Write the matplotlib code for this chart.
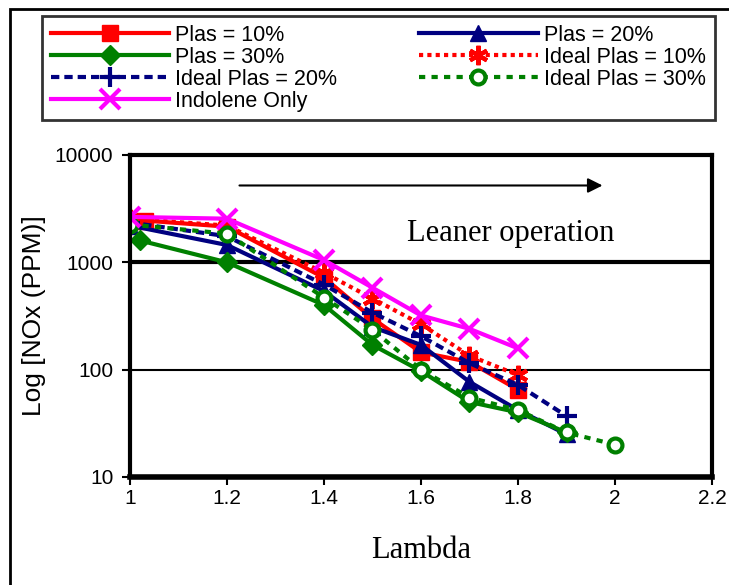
import matplotlib.pyplot as plt
from matplotlib.patches import Rectangle

# datos
lam_p10 = [1.03, 1.2, 1.4, 1.5, 1.6, 1.7, 1.8]
nox_p10 = [2450, 2150, 720, 300, 145, 118, 65]

lam_p20 = [1.0, 1.2, 1.4, 1.5, 1.6, 1.7, 1.8, 1.9]
nox_p20 = [2200, 1450, 540, 250, 170, 77, 42, 25]

lam_p30 = [1.02, 1.2, 1.4, 1.5, 1.6, 1.7, 1.8, 1.9]
nox_p30 = [1600, 1000, 400, 170, 97, 50, 40, 26]

lam_i10 = [1.0, 1.2, 1.4, 1.5, 1.6, 1.7, 1.8]
nox_i10 = [2550, 2200, 800, 460, 265, 135, 89]

lam_i20 = [1.0, 1.2, 1.4, 1.5, 1.6, 1.7, 1.8, 1.9]
nox_i20 = [2350, 1750, 620, 340, 205, 115, 72, 37]

lam_i30 = [1.0, 1.2, 1.4, 1.5, 1.6, 1.7, 1.8, 1.9, 2.0]
nox_i30 = [2250, 1850, 470, 235, 100, 55, 42, 26, 20]

lam_ind = [1.0, 1.2, 1.4, 1.5, 1.6, 1.7, 1.8]
nox_ind = [2650, 2550, 1050, 580, 320, 240, 158]

x_ticks = [1, 1.2, 1.4, 1.6, 1.8, 2, 2.2]
x_labels = ["1", "1.2", "1.4", "1.6", "1.8", "2", "2.2"]
y_ticks = [10, 100, 1000, 10000]
y_labels = ["10", "100", "1000", "10000"]

W, H = 729, 585
fig = plt.figure(figsize=(W / 100, H / 100), dpi=100)
ax = fig.add_axes([130 / W, 1 - 477 / H, (712 - 130) / W, (477 - 155) / H])

RED = "#ff0000"
BLUE = "#000080"
GREEN = "#008000"
MAG = "#ff00ff"
lw = 3

ax.axhline(1000, color="black", lw=3, zorder=1)
ax.axhline(100, color="black", lw=1.5, zorder=1)

lines = []
lines.append(ax.plot(lam_p10, nox_p10, color=RED, lw=lw, marker="s", ms=11,
                     label="Plas = 10%")[0])
lines.append(ax.plot(lam_p20, nox_p20, color=BLUE, lw=lw, marker="^", ms=12,
                     label="Plas = 20%")[0])
lines.append(ax.plot(lam_p30, nox_p30, color=GREEN, lw=lw, marker="D", ms=10,
                     label="Plas = 30%")[0])
lines.append(ax.plot(lam_i10, nox_i10, color=RED, lw=lw, ls=(0, (1, 1)),
                     marker=(6, 2, 0), ms=14, mew=3, label="Ideal Plas = 10%")[0])
lines.append(ax.plot(lam_i20, nox_i20, color=BLUE, lw=lw, ls=(0, (2, 1.2)),
                     marker="+", ms=15, mew=3, label="Ideal Plas = 20%")[0])
lines.append(ax.plot(lam_i30, nox_i30, color=GREEN, lw=lw, ls=(0, (1.5, 1.5)),
                     marker="o", ms=10, mew=3, mfc="white", label="Ideal Plas = 30%")[0])
lines.append(ax.plot(lam_ind, nox_ind, color=MAG, lw=lw, marker="x", ms=14, mew=3,
                     label="Indolene Only")[0])

ax.set_yscale("log")
ax.set_ylim(10, 10000)
ax.set_xlim(1, 2.2)
ax.set_xticks(x_ticks)
ax.set_xticklabels(x_labels)
ax.set_yticks(y_ticks)
ax.set_yticklabels(y_labels)
ax.minorticks_off()
ax.tick_params(axis="both", direction="out", length=6, width=1.5, labelsize=15)
ax.tick_params(axis="x", pad=3)
ax.tick_params(axis="y", pad=6)
for lab in ax.get_xticklabels() + ax.get_yticklabels():
    lab.set_family("Liberation Sans")

for s in ["left", "right", "top"]:
    ax.spines[s].set_linewidth(3)
ax.spines["bottom"].set_linewidth(4)

ax.set_xlabel("Lambda", family="Liberation Serif", fontsize=22, labelpad=20)
ax.set_ylabel("Log [NOx (PPM)]", family="Liberation Sans", fontsize=19, labelpad=6)

ax.annotate("", xy=(1.98, 5200), xytext=(1.22, 5200),
            arrowprops=dict(arrowstyle="-|>", color="black", lw=1.5,
                            mutation_scale=22))
ax.text(1.785, 1850, "Leaner operation", family="Liberation Serif", fontsize=22,
        ha="center", va="center")

# leyenda en dos columnas (se llena por columnas)
order = [0, 2, 4, 6, 1, 3, 5]
leg = fig.legend([lines[i] for i in order], [lines[i].get_label() for i in order],
                 loc="upper left", bbox_to_anchor=(42 / W, 1 - 16 / H), ncol=2,
                 borderaxespad=0,
                 prop={"family": "Liberation Sans", "size": 15.5},
                 handlelength=5.5, handletextpad=0.3, columnspacing=3.8,
                 labelspacing=0.05, borderpad=0.4, frameon=True, fancybox=False,
                 edgecolor="black")
leg.get_frame().set_linewidth(2)

# marco exterior
fig.patches.append(Rectangle((10 / W, -0.1), 1.2, 1.1 - 9 / H, transform=fig.transFigure,
                             fill=False, edgecolor="black", lw=2))

fig.savefig("out.png", dpi=100)
